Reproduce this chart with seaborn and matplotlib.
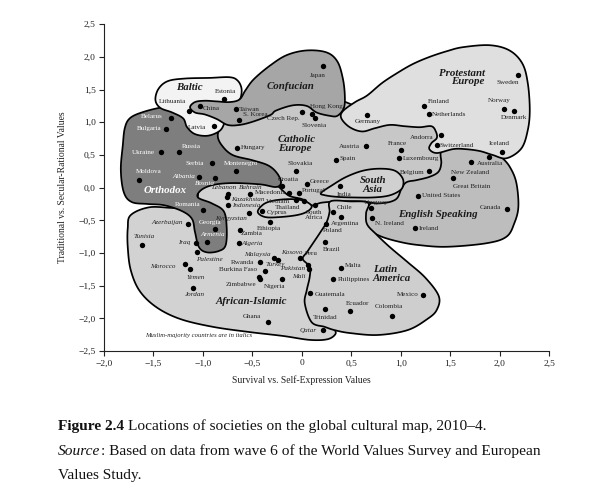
import numpy as np
import pandas as pd
import matplotlib
matplotlib.use("Agg")
import matplotlib.pyplot as plt
import seaborn as sns

# --- societies: x = survival vs self-expression, y = traditional vs secular-rational ---
countries = ["Estonia", "Lithuania", "Latvia", "China", "Taiwan", "S. Korea", "Japan",
             "Hong Kong", "Czech Rep.", "Slovenia", "Germany", "Finland", "Netherlands",
             "Sweden", "Norway", "Denmark", "Andorra", "Switzerland", "Iceland", "Australia",
             "New Zealand", "Great Britain", "United States", "Canada", "Ireland", "N. Ireland",
             "Uruguay", "Austria", "France", "Luxembourg", "Belgium", "Spain", "Hungary",
             "Slovakia", "Croatia", "Greece", "Portugal", "Macedonia", "Vietnam", "Thailand",
             "India", "South\nAfrica", "Chile", "Argentina", "Poland", "Brazil", "Peru", "Malta",
             "Philippines", "Guatemala", "Trinidad", "Ecuador", "Colombia", "Mexico", "Qatar",
             "Pakistan", "Mali", "Belarus", "Bulgaria", "Ukraine", "Russia", "Serbia",
             "Montenegro", "Moldova", "Albania", "Bosnia", "Romania", "Georgia", "Armenia",
             "Azerbaijan", "Lebanon", "Bahrain", "Kazakhstan", "Indonesia", "Kyrgyzstan",
             "Cyprus", "Ethiopia", "Zambia", "Algeria", "Iraq", "Palestine", "Tunisia",
             "Morocco", "Yemen", "Jordan", "Rwanda", "Burkina Faso", "Zimbabwe", "Turkey",
             "Malaysia", "Kosovo", "Nigeria", "Ghana"]
self_expression = [-0.79, -1.14, -0.89, -1.03, -0.67, -0.64, 0.21,
                   0.10, 0.00, 0.13, 0.66, 1.24, 1.29,
                   2.19, 2.04, 2.15, 1.41, 1.37, 2.02, 1.89,
                   1.71, 1.53, 1.17, 2.07, 1.14, 0.71,
                   0.70, 0.65, 1.00, 0.98, 1.29, 0.35, -0.66,
                   -0.06, -0.20, 0.05, -0.03, -0.13, -0.06, 0.02,
                   0.39, 0.13, 0.32, 0.40, 0.24, 0.23, -0.02, 0.40,
                   0.32, 0.08, 0.23, 0.49, 0.91, 1.23, 0.21,
                   0.06, 0.07, -1.32, -1.37, -1.42, -1.24, -0.91,
                   -0.67, -1.65, -1.04, -0.88, -1.00, -0.88, -0.96,
                   -1.15, -0.75, -0.52, -0.76, -0.745, -0.53,
                   -0.40, -0.32, -0.63, -0.64, -1.07, -1.06, -1.62,
                   -1.18, -1.13, -1.10, -0.42, -0.43, -0.42, -0.37,
                   -0.28, -0.24, -0.20, -0.34]
secular_rational = [1.35, 1.17, 0.94, 1.25, 1.20, 1.03, 1.86,
                    1.13, 1.16, 1.06, 1.11, 1.25, 1.12,
                    1.73, 1.21, 1.17, 0.81, 0.65, 0.55, 0.47,
                    0.39, 0.145, -0.125, -0.32, -0.62, -0.46,
                    -0.31, 0.63, 0.57, 0.45, 0.26, 0.42, 0.60,
                    0.25, 0.03, 0.05, -0.08, -0.08, -0.19, -0.21,
                    0.02, -0.27, -0.37, -0.45, -0.56, -0.83, -1.08, -1.23,
                    -1.40, -1.61, -1.86, -1.89, -1.96, -1.65, -2.18,
                    -1.185, -1.25, 1.06, 0.89, 0.54, 0.54, 0.37,
                    0.26, 0.11, 0.17, 0.15, -0.34, -0.635, -0.83,
                    -0.56, -0.09, -0.09, -0.15, -0.27, -0.39,
                    -0.36, -0.52, -0.645, -0.85, -0.84, -0.98, -0.88,
                    -1.17, -1.25, -1.54, -1.14, -1.37, -1.40, -1.28,
                    -1.07, -1.11, -1.40, -2.05]

italic_names = {"Albania", "Bosnia", "Armenia", "Azerbaijan", "Lebanon", "Bahrain", "Kazakhstan",
                "Indonesia", "Kyrgyzstan", "Algeria", "Iraq", "Palestine", "Tunisia", "Morocco",
                "Yemen", "Jordan", "Turkey", "Malaysia", "Kosovo", "Pakistan", "Mali", "Qatar"}
white_names = {"Belarus", "Bulgaria", "Ukraine", "Russia", "Serbia", "Montenegro", "Moldova",
               "Albania", "Bosnia", "Romania", "Georgia", "Armenia"}

orthodox_zone = [(-1.74, 1.06), (-1.62, 1.15), (-1.41, 1.23), (-1.13, 1.28), (-0.88, 1.28),
                 (-0.73, 1.19), (-0.81, 0.96), (-0.85, 0.80), (-0.81, 0.65), (-0.70, 0.50),
                 (-0.50, 0.42), (-0.34, 0.34), (-0.25, 0.22), (-0.21, 0.08), (-0.26, 0.01),
                 (-0.42, 0.05), (-0.70, 0.07), (-0.90, 0.04), (-1.02, -0.04), (-1.05, -0.15),
                 (-0.91, -0.24), (-0.79, -0.36), (-0.76, -0.60), (-0.77, -0.88), (-0.84, -0.97),
                 (-0.96, -0.99), (-1.04, -0.91), (-1.08, -0.68), (-1.11, -0.48), (-1.21, -0.36),
                 (-1.39, -0.27), (-1.56, -0.25), (-1.72, -0.22), (-1.80, -0.07), (-1.83, 0.27),
                 (-1.81, 0.65), (-1.79, 0.91)]
catholic_zone = [(-0.91, 0.91), (-0.78, 1.03), (-0.53, 1.19), (-0.22, 1.29), (0.08, 1.37),
                 (0.38, 1.34), (0.69, 1.15), (0.99, 1.06), (1.24, 1.03), (1.395, 0.91),
                 (1.456, 0.73), (1.405, 0.54), (1.41, 0.37), (1.38, 0.24), (1.29, 0.165),
                 (1.16, 0.115), (1.06, 0.084), (1.01, -0.008), (0.95, -0.18), (0.79, -0.24),
                 (0.59, -0.21), (0.38, -0.21), (0.20, -0.23), (0.10, -0.27), (0.01, -0.18),
                 (-0.12, -0.13), (-0.19, -0.05), (-0.24, 0.02), (-0.37, 0.145), (-0.58, 0.34),
                 (-0.81, 0.57), (-0.91, 0.80)]
baltic_zone = [(-1.48, 1.34), (-1.45, 1.51), (-1.355, 1.63), (-1.18, 1.67), (-0.93, 1.68),
               (-0.73, 1.69), (-0.65, 1.64), (-0.61, 1.52), (-0.62, 1.37), (-0.67, 1.28),
               (-0.75, 1.155), (-0.78, 1.00), (-0.83, 0.87), (-0.95, 0.795), (-1.08, 0.82),
               (-1.16, 0.925), (-1.20, 1.06), (-1.31, 1.15), (-1.43, 1.22)]
confucian_zone = [(-1.13, 1.23), (-1.08, 1.31), (-0.98, 1.33), (-0.86, 1.32), (-0.73, 1.31),
                  (-0.63, 1.35), (-0.57, 1.49), (-0.485, 1.66), (-0.32, 1.87), (-0.15, 2.03),
                  (0.05, 2.10), (0.25, 2.07), (0.36, 1.93), (0.415, 1.67), (0.435, 1.41),
                  (0.425, 1.22), (0.36, 1.10), (0.28, 1.10), (0.15, 1.15), (0.05, 1.25),
                  (-0.09, 1.26), (-0.26, 1.18), (-0.32, 1.11), (-0.495, 1.01), (-0.63, 0.96),
                  (-0.75, 0.96), (-0.86, 1.05), (-0.98, 1.12), (-1.08, 1.15)]
protestant_zone = [(0.40, 1.06), (0.415, 1.17), (0.54, 1.31), (0.66, 1.41), (0.81, 1.60),
                   (0.96, 1.75), (1.12, 1.89), (1.29, 2.00), (1.47, 2.09), (1.63, 2.15),
                   (1.90, 2.18), (2.10, 2.10), (2.23, 1.90), (2.285, 1.60), (2.305, 1.19),
                   (2.285, 0.88), (2.22, 0.60), (2.07, 0.45), (1.93, 0.50), (1.80, 0.56),
                   (1.65, 0.59), (1.53, 0.59), (1.365, 0.53), (1.29, 0.59), (1.31, 0.68),
                   (1.365, 0.76), (1.355, 0.86), (1.31, 0.94), (1.19, 0.925), (1.04, 0.94),
                   (0.89, 0.96), (0.74, 0.91), (0.61, 0.86), (0.485, 0.925)]
english_zone = [(1.04, 0.42), (1.29, 0.57), (1.60, 0.65), (1.90, 0.60), (2.03, 0.45),
                (2.11, 0.30), (2.17, 0.07), (2.19, -0.29), (2.15, -0.54), (2.07, -0.75),
                (1.87, -0.85), (1.47, -0.905), (1.19, -0.88), (0.99, -0.83), (0.79, -0.74),
                (0.67, -0.62), (0.64, -0.42), (0.69, -0.25), (0.84, -0.13), (0.97, 0.04),
                (0.99, 0.27)]
south_asia_zone = [(0.195, -0.08), (0.31, 0.04), (0.45, 0.165), (0.62, 0.26), (0.79, 0.29),
                   (0.94, 0.26), (1.02, 0.14), (1.02, 0.01), (0.97, -0.065), (0.87, -0.125),
                   (0.72, -0.15), (0.52, -0.15), (0.35, -0.14), (0.23, -0.115)]
latin_zone = [(0.29, -0.21), (0.485, -0.21), (0.67, -0.23), (0.65, -0.39), (0.66, -0.56),
              (0.75, -0.71), (0.89, -0.91), (1.07, -1.14), (1.25, -1.38), (1.385, -1.66),
              (1.365, -1.87), (1.27, -2.01), (1.07, -2.18), (0.77, -2.255), (0.485, -2.225),
              (0.33, -2.18), (0.23, -2.13), (0.10, -2.06), (0.03, -1.77), (0.05, -1.57),
              (0.08, -1.365), (0.08, -1.21), (0.01, -1.09), (0.06, -0.97), (0.18, -0.70),
              (0.25, -0.53), (0.28, -0.375)]
african_zone = [(-1.73, -0.42), (-1.54, -0.30), (-1.28, -0.31), (-1.08, -0.27), (-1.03, 0.02),
                (-0.90, 0.08), (-0.70, 0.11), (-0.425, 0.10), (-0.22, 0.07), (-0.02, -0.115),
                (0.18, -0.19), (0.33, -0.24), (0.30, -0.50), (0.13, -0.88), (0.16, -1.34),
                (0.13, -1.72), (0.14, -2.01), (0.23, -2.10), (0.32, -2.16), (0.34, -2.24),
                (0.26, -2.32), (0.08, -2.33), (-0.19, -2.27), (-0.53, -2.21), (-0.90, -2.13),
                (-1.23, -2.01), (-1.47, -1.83), (-1.64, -1.58), (-1.73, -1.26), (-1.76, -0.91),
                (-1.76, -0.62)]
sea_loop = [(-0.445, -0.375), (-0.40, -0.27), (-0.32, -0.21), (-0.19, -0.18), (-0.05, -0.18),
            (0.05, -0.22), (0.10, -0.29), (0.05, -0.37), (-0.05, -0.42), (-0.22, -0.45),
            (-0.37, -0.45)]

zone_names = ["Baltic", "Confucian", "Catholic\nEurope", "Protestant\nEurope", "Orthodox",
              "South\nAsia", "English Speaking", "Latin\nAmerica", "African-Islamic"]

# label placement: offset in points from the dot, horizontal alignment
label_pos = {
    "Estonia": (1.5, 6, "center"), "Lithuania": (-2, 7, "right"), "Latvia": (-5.5, -1, "right"),
    "China": (2, -2, "left"), "Taiwan": (2.5, 0, "left"), "S. Korea": (3, 4, "left"),
    "Japan": (-3.5, -6.7, "center"), "Hong Kong": (-1.2, 5, "left"),
    "Czech Rep.": (-1.5, -5, "right"), "Slovenia": (-0.6, -4.8, "center"),
    "Germany": (0.7, -4.8, "center"), "Finland": (2.4, 3.4, "left"),
    "Netherlands": (1.7, 0, "left"), "Sweden": (0.5, -5.8, "right"),
    "Norway": (-3.1, 6, "center"), "Denmark": (-0.4, -4.8, "center"),
    "Andorra": (-5.7, -1.7, "right"), "Switzerland": (1.7, 0, "left"),
    "Iceland": (-1.4, 6, "center"), "Australia": (1.3, -4.8, "center"),
    "New Zealand": (-0.7, -7.7, "center"), "Great Britain": (0, -6, "left"),
    "United States": (2.9, 0, "left"), "Canada": (-4, 0.5, "right"),
    "Ireland": (2.9, 0, "left"), "N. Ireland": (2.4, -4.1, "left"),
    "Uruguay": (3.6, 4.2, "center"), "Austria": (-4.3, 0.2, "right"),
    "France": (-2.7, 5.3, "center"), "Luxembourg": (3, 0, "left"),
    "Belgium": (-3.6, -1.2, "right"), "Spain": (2.4, 1, "left"),
    "Hungary": (2.9, 0.5, "left"), "Slovakia": (2.9, 5.8, "center"),
    "Croatia": (4.8, 4.3, "center"), "Greece": (2, 2.4, "left"),
    "Portugal": (2.5, 2, "left"), "Macedonia": (-2, 0.5, "right"),
    "Vietnam": (-4.3, -1.2, "right"), "Thailand": (-2.6, -4.5, "right"),
    "India": (3, -5.8, "center"), "South\nAfrica": (-0.5, -7.2, "center"),
    "Chile": (2.4, 3.2, "left"), "Argentina": (3, -4.8, "center"),
    "Poland": (5, -4.8, "center"), "Brazil": (5, -5.3, "center"),
    "Peru": (3.6, 3.1, "left"), "Malta": (2.4, 1.9, "left"),
    "Philippines": (2.9, 0, "left"), "Guatemala": (3.6, -0.9, "left"),
    "Trinidad": (0.2, -5.8, "center"), "Ecuador": (5.5, 5.5, "center"),
    "Colombia": (-2.4, 6.5, "center"), "Mexico": (-3.6, 1, "right"),
    "Qatar": (-4.3, 0, "right"), "Pakistan": (-2.2, -2.2, "right"),
    "Mali": (-2.6, -5.0, "right"), "Belarus": (-6, 1.2, "right"),
    "Bulgaria": (-3.5, 0.7, "right"), "Ukraine": (-5, 0, "right"),
    "Russia": (2, 4, "left"), "Serbia": (-6, 0, "right"),
    "Montenegro": (4, 5.3, "center"), "Moldova": (7, 6.5, "center"),
    "Albania": (-2.5, 0, "right"), "Bosnia": (-7, -4, "center"),
    "Romania": (-2, 3.6, "right"), "Georgia": (-3.5, 4.8, "center"),
    "Armenia": (4.3, 5.3, "center"), "Azerbaijan": (-4, 1, "right"),
    "Lebanon": (-2.5, 4.5, "center"), "Bahrain": (0.5, 4.7, "center"),
    "Kazakhstan": (3.5, -1.4, "left"), "Indonesia": (2.5, 0, "left"),
    "Kyrgyzstan": (-1.5, -4, "right"), "Cyprus": (3, -1, "left"),
    "Ethiopia": (-1, -5, "center"), "Zambia": (1, -2.6, "left"),
    "Algeria": (2.4, 0, "left"), "Iraq": (-4, 0, "right"),
    "Palestine": (-1, -5.5, "left"), "Tunisia": (2, 6.2, "center"),
    "Morocco": (-7, -1.4, "right"), "Yemen": (4.3, -5.8, "center"),
    "Jordan": (1.2, -4.8, "center"), "Rwanda": (-4.8, 0, "right"),
    "Burkina Faso": (-2, 5.5, "right"), "Zimbabwe": (-2.7, -3.8, "right"),
    "Turkey": (0.3, 5.2, "left"), "Malaysia": (-2.5, 2.5, "right"),
    "Kosovo": (2, 5.8, "left"), "Nigeria": (-5, -5, "center"),
    "Ghana": (-5, 3.4, "right"),
}
zone_label_pos = {
    "Baltic": (-1.14, 1.53, "center"), "Confucian": (-0.11, 1.55, "center"),
    "Catholic\nEurope": (-0.24, 0.67, "left"), "Protestant\nEurope": (1.85, 1.685, "right"),
    "Orthodox": (-1.38, -0.05, "center"), "South\nAsia": (0.72, 0.04, "center"),
    "English Speaking": (1.38, -0.405, "center"), "Latin\nAmerica": (0.72, -1.32, "left"),
    "African-Islamic": (-0.515, -1.745, "center"),
}


def smooth_closed(pts, n=24):
    # closed Catmull-Rom curve through the traced points
    P = np.asarray(pts, dtype=float)
    N = len(P)
    t = np.linspace(0, 1, n, endpoint=False)[:, None]
    segs = []
    for i in range(N):
        p0, p1, p2, p3 = P[i - 1], P[i], P[(i + 1) % N], P[(i + 2) % N]
        segs.append(0.5 * (2 * p1 + (p2 - p0) * t
                           + (2 * p0 - 5 * p1 + 4 * p2 - p3) * t ** 2
                           + (-p0 + 3 * p1 - 3 * p2 + p3) * t ** 3))
    return np.vstack(segs)


sns.set_style("ticks")
plt.rcParams["font.family"] = ["Liberation Serif", "DejaVu Serif"]

fig = plt.figure(figsize=(5.91, 4.92), dpi=100)
ax = fig.add_axes([0.176, 0.2866, 0.753, 0.664])

# draw order matters: later zones sit on top of earlier ones
zones = [
    (english_zone, "#bdbdbd"),
    (african_zone, "#d2d2d2"),
    (catholic_zone, "#c7c7c7"),
    (orthodox_zone, "#7e7e7e"),
    (baltic_zone, "#f3f3f3"),
    (confucian_zone, "#a6a6a6"),
    (protestant_zone, "#dfdfdf"),
    (south_asia_zone, "#d0d0d0"),
    (latin_zone, "#cecece"),
    (sea_loop, "#d2d2d2"),
]
for z, (outline, fc) in enumerate(zones):
    curve = smooth_closed(outline)
    ax.fill(curve[:, 0], curve[:, 1], facecolor=fc, edgecolor="black",
            linewidth=1.25, joinstyle="round", zorder=2 + z)

df = pd.DataFrame({"country": countries, "x": self_expression, "y": secular_rational})
sns.scatterplot(data=df, x="x", y="y", color="black", s=15, linewidth=0,
                legend=False, ax=ax, zorder=30)

for name, x, y in zip(countries, self_expression, secular_rational):
    dx, dy, ha = label_pos[name]
    ax.annotate(name, (x, y), xytext=(dx, dy), textcoords="offset points",
                ha=ha, va="center", fontsize=5.1, linespacing=0.9,
                color="white" if name in white_names else "#222222",
                style="italic" if name in italic_names else "normal", zorder=31)

for name in zone_names:
    x, y, ha = zone_label_pos[name]
    ax.text(x, y, name, ha=ha, va="center", multialignment=ha, fontsize=7.8,
            fontweight="bold", style="italic", linespacing=0.95,
            color="white" if name == "Orthodox" else "#1a1a1a", zorder=32)

ax.text(-1.04, -2.27, "Muslim-majority countries are in italics", ha="center", va="center",
        fontsize=4.8, style="italic", color="#222222", zorder=32)

xticks = np.arange(-2.0, 2.51, 0.5)
yticks = np.arange(-2.5, 2.51, 0.5)
ax.set_xlim(-2.0, 2.5)
ax.set_ylim(-2.5, 2.5)
ax.set_xticks(xticks)
ax.set_yticks(yticks)
ax.set_xticklabels(["0" if abs(v) < 1e-9 else f"{v:.1f}".replace("-", "\u2212").replace(".", ",")
                    for v in xticks])
ax.set_yticklabels(["0,0" if abs(v) < 1e-9 else f"{v:.1f}".replace("-", "\u2212").replace(".", ",")
                    for v in yticks])
ax.tick_params(length=3.5, width=0.8, labelsize=6.8, pad=2.5, colors="#222222")
sns.despine(ax=ax)
for side in ["left", "bottom"]:
    ax.spines[side].set_linewidth(0.8)
    ax.spines[side].set_color("#222222")

ax.set_xlabel("Survival vs. Self-Expression Values", fontsize=6.9, color="#222222")
ax.set_ylabel("Traditional vs. Secular-Rational Values", fontsize=6.9, color="#222222")
ax.xaxis.set_label_coords(0.443, -0.075)
ax.yaxis.set_label_coords(-0.083, 0.5)

# caption below the chart, mixed styles on one line
fig.canvas.draw()
renderer = fig.canvas.get_renderer()
cap_size = 11.1
space = 0.25 * cap_size * fig.dpi / 72.0


def caption_line(parts, x, y):
    for txt, kw, gap in parts:
        t = fig.text(x, y, txt, fontsize=cap_size, ha="left", va="baseline",
                     color="#111111", **kw)
        bb = t.get_window_extent(renderer=renderer)
        x = (bb.x1 + (space if gap else 0.6)) / fig.bbox.width


caption_line([("Figure 2.4", {"fontweight": "bold"}, True),
              ("Locations of societies on the global cultural map, 2010\u20134.", {}, False)],
             0.098, 0.126)
caption_line([("Source", {"style": "italic"}, False),
              (": Based on data from wave 6 of the World Values Survey and European", {}, False)],
             0.098, 0.075)
caption_line([("Values Study.", {}, False)], 0.098, 0.027)

fig.savefig("out.png", dpi=100)
